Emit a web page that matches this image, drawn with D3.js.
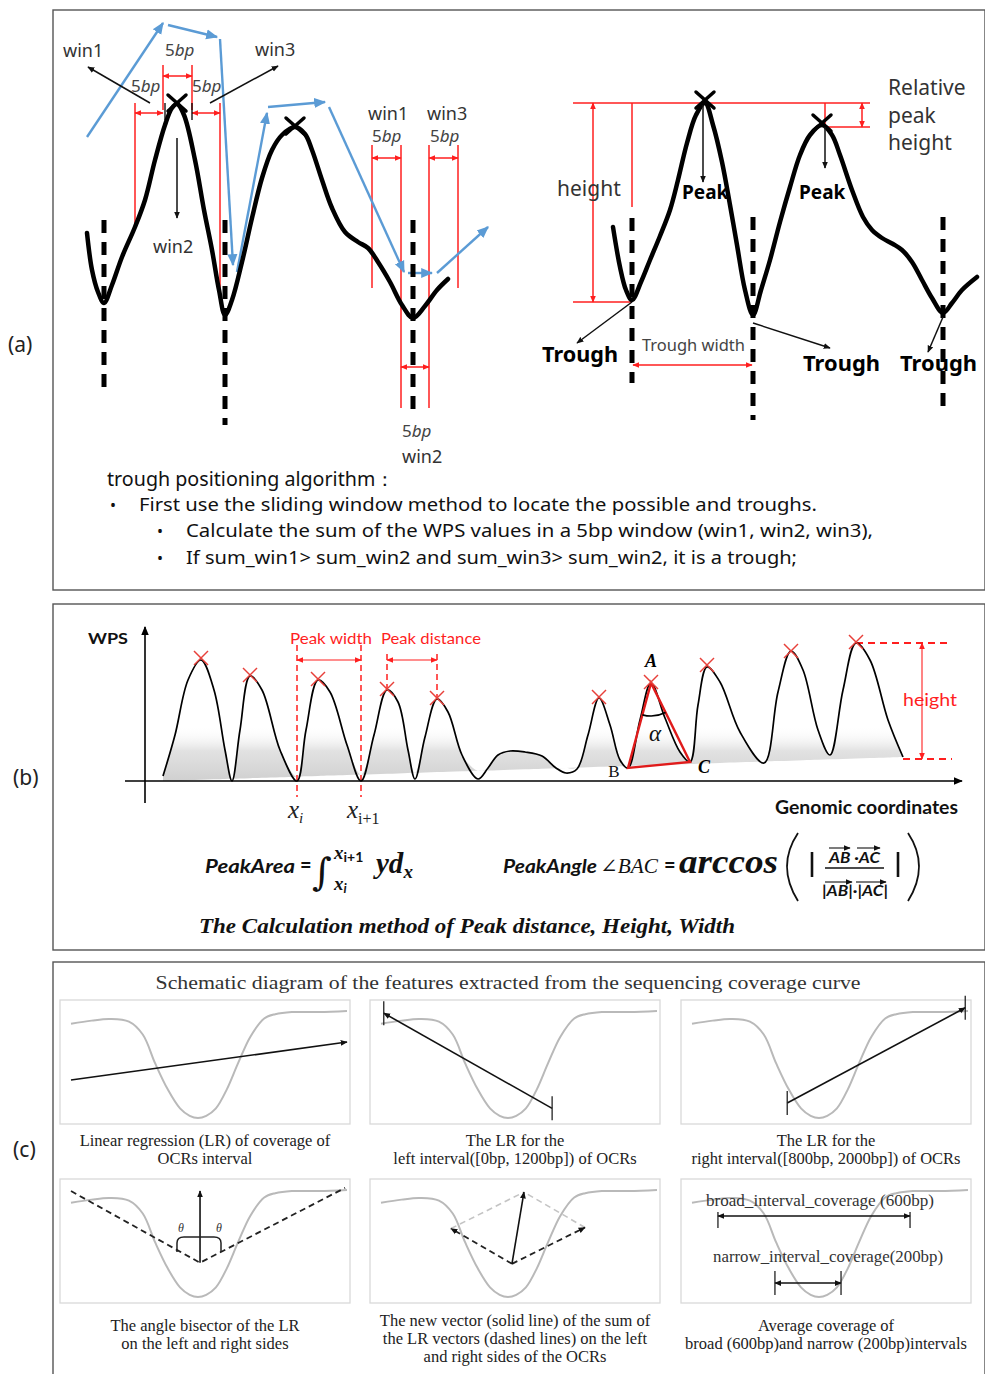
<!DOCTYPE html>
<html>
<head>
<meta charset="utf-8">
<script src="https://cdn.jsdelivr.net/npm/d3@7"></script>
<style>
  body { margin: 0; background: #fff; }
  svg { display: block; }
</style>
</head>
<body>
<svg id="fig"></svg>
<script>
// ---------- (a) sliding window trough search : WPS curves ----------
const aLeftPos  = [0,5,11,17,25,35,48,58,68,78,85,90,97,108,117,125,132,138,145,155,165,175,185,195,208,218,225,235,245,258,271,281,291,303,315,326,338,350,361];
const aLeftWps  = [87,50,28,17,35,63,93,120,160,195,212,216,205,160,110,70,30,5,20,58,102,142,170,185,193,186,170,140,112,88,78,72,58,38,15,2,14,30,41];
const aRightPos = [36,43,49,55,64,73,83,93,101,110,119,128,136,145,153,160,168,176,184,193,203,213,223,233,245,255,263,275,286,295,305,316,325,335,345,355,366,375,385,400];
const aRightWps = [93,53,30,20,38,60,84,110,140,177,205,217,195,158,115,75,30,5,30,60,98,133,165,185,195,185,165,130,103,90,82,76,70,58,40,22,7,17,30,43];
const aLeftPeaks  = [[90, 217], [208, 194]];
const aRightPeaks = [[128, 220], [245, 197]];
// trough position, dash top, dash bottom
const aLeftTroughs  = [[17, 100, -67], [138, 100, -105], [326, 100, -92]];
const aRightTroughs = [[55, 102, -63], [176, 103, -100], [366, 103, -92]];
// blue sliding steps x0,y0,x1,y1
const aSlide = [[0,183,76,297],[81,295,130,283],[133,281,146,55],[150,48,180,207],[181,213,238,218],[242,213,317,48],[321,47,345,47],[350,47,401,93]];
// window borders (x, y0, y1) and window spans (x0, x1, arrow y)
const aWinLeftLines  = [[48,93,217],[76,210,255],[105,210,255],[133,32,217]];
const aWinLeftSpans  = [[48,76,207],[76,105,244],[105,133,207]];
const aWinTicks      = [[78,200,217],[105,200,217]];
const aWinRightLines = [[285,32,175],[314,-88,175],[342,-88,175],[371,32,175]];
const aWinRightSpans = [[285,314,162],[314,342,-47],[342,371,162]];
const aLeftPointers  = [[63,217,1,253],[123,217,191,254],[90,182,90,102]];
const aRightPointers = [[126,215,126,138],[248,193,248,152],[55,18,0,-23],[176,-3,253,-28],[366,3,351,-32]];
const aHeightLines   = [[-4,217,293,217],[-4,18,55,18],[55,217,55,113],[248,193,293,193],[248,217,248,193]];
const aHeightArrows  = [[16,18,16,217],[285,193,285,217],[56,-45,175,-45]];
const aAlgorithm = [
  "trough positioning algorithm\uff1a",
  "First use the sliding window method to locate the possible and troughs.",
  "Calculate the sum of the WPS values in a 5bp window (win1, win2, win3),",
  "If sum_win1> sum_win2 and sum_win3> sum_win2, it is a trough;"
];

// ---------- (b) peak features ----------
const bPos = [18,30,43,56,69,80,87,95,105,117,135,152,161,173,185,202,216,229,242,253,263,270,280,292,303,317,333,343,353,365,380,397,411,421,432,443,454,465,475,483,495,506,520,535,545,553,562,575,595,619,633,646,658,673,685,698,711,725,743,758];
const bWps = [5,46,101,121,91,31,0,51,105,91,31,0,51,101,89,36,0,46,91,79,31,2,44,82,69,26,2,13,26,30,29,25,13,8,12,46,83,56,21,13,61,98,63,29,19,76,114,99,49,18,89,130,111,51,26,91,138,121,61,24];
const bPeaks = [[56,123],[105,106],[173,102],[242,92],[292,83],[454,84],[506,99],[562,116],[646,130],[711,139]];
const bBaseline = [[18, 0], [758, 24]];
const bTriangle = { A: [506, 98], B: [483, 13], C: [545, 19] };
const bPeakWidth = [152, 216];
const bPeakDistance = [242, 292];
const bHeight = { top: 138, bottom: 22, x: 777, right: 807, topFrom: 711, bottomFrom: 758 };

// ---------- (c) coverage curve features ----------
const covBp  = [0,150,280,420,520,610,700,790,860,920,980,1050,1130,1210,1300,1400,1480,1600,1800,2000];
const covVal = [0.88,0.91,0.925,0.90,0.78,0.51,0.27,0.09,0.02,0,0.02,0.09,0.27,0.51,0.76,0.93,0.97,0.99,0.99,1.0];
const lrAll   = [[0, 0.355], [2000, 0.71]];
const lrLeft  = [[1240, 0.09], [20, 0.98]];
const lrRight = [[690, 0.14], [1980, 1.03]];
const bisector = { start: [0, 0.99], vertex: [935, 0.32], end: [1986, 1.02], top: 0.99 };
const thetaBracket = { x0: 768, x1: 1087, top: 0.56, bottom: 0.42 };
const vecSum = { vertex: [949, 0.31], left: [507, 0.64], right: [1478, 0.65] };
const broadInterval  = [188, 1580, 0.757];
const narrowInterval = [601, 1080, 0.13];
const cTitle = "Schematic diagram of the features extracted from the sequencing coverage curve";
const cCaptions = [
  ["Linear regression (LR) of coverage of", "OCRs interval"],
  ["The LR for the", "left interval([0bp, 1200bp]) of OCRs"],
  ["The LR for the", "right interval([800bp, 2000bp]) of OCRs"],
  ["The angle bisector of the LR", "on the left and right sides"],
  ["The new vector (solid line) of the sum of", "the LR vectors (dashed lines) on the left", "and right sides of the OCRs"],
  ["Average coverage of", "broad (600bp)and narrow (200bp)intervals"]
];

const fA = "'Noto Sans', 'Open Sans', sans-serif";
const fB = "Lato, 'Open Sans', sans-serif";
const fS = "'Liberation Serif', 'DejaVu Serif', serif";
const RED = "#ff1f1f", BLUE = "#5b9bd5";

const svg = d3.select("#fig").attr("width", 985).attr("height", 1374);
const defs = svg.append("defs");

function marker(id, color, size) {
  defs.append("marker").attr("id", id)
    .attr("viewBox", "0 0 10 10").attr("refX", 9).attr("refY", 5)
    .attr("markerWidth", size).attr("markerHeight", size)
    .attr("markerUnits", "userSpaceOnUse").attr("orient", "auto-start-reverse")
    .append("path").attr("d", "M0,0.8L10,5L0,9.2z").attr("fill", color);
}
marker("arrK", "#000", 9);
marker("arrKs", "#111", 7);
marker("arrR", RED, 7);
marker("arrB", BLUE, 12);

function seg(g, sx, sy, d, stroke, width) {
  return g.append("line")
    .attr("x1", sx(d[0])).attr("y1", sy(d[1]))
    .attr("x2", sx(d[2])).attr("y2", sy(d[3]))
    .attr("stroke", stroke).attr("stroke-width", width);
}

function txt(g, x, y, s, o = {}) {
  const t = g.append("text").attr("x", x).attr("y", y)
    .attr("font-family", o.family || fA).attr("font-size", o.size || 16)
    .attr("fill", o.fill || "#222");
  if (o.weight) t.attr("font-weight", o.weight);
  if (o.style) t.attr("font-style", o.style);
  if (o.anchor) t.attr("text-anchor", o.anchor);
  if (o.len) t.attr("textLength", o.len).attr("lengthAdjust", "spacingAndGlyphs");
  t.text(s);
  return t;
}

// panel frames
[[53, 10, 932, 580], [53, 604, 932, 346], [53, 962, 932, 430]].forEach(f => {
  svg.append("rect").attr("x", f[0]).attr("y", f[1]).attr("width", f[2]).attr("height", f[3])
    .attr("fill", "none").attr("stroke", "#555").attr("stroke-width", 1.4);
});
txt(svg, 8, 352, "(a)", { size: 21 });
txt(svg, 13, 785, "(b)", { size: 21 });
txt(svg, 13, 1157, "(c)", { size: 21 });

// =============== panel (a) ===============
const gA = svg.append("g");
const ya = d3.scaleLinear().domain([0, 220]).range([320, 100]);
const xaL = d3.scaleLinear().domain([0, 400]).range([87, 487]);
const xaR = d3.scaleLinear().domain([0, 400]).range([577, 977]);

// red windows (left)
aWinLeftLines.forEach(d => seg(gA, xaL, ya, [d[0], d[1], d[0], d[2]], RED, 1.5));
aWinLeftSpans.forEach(d => seg(gA, xaL, ya, [d[0], d[2], d[1], d[2]], RED, 1.5)
  .attr("marker-start", "url(#arrR)").attr("marker-end", "url(#arrR)"));
aWinTicks.forEach(d => seg(gA, xaL, ya, [d[0], d[1], d[0], d[2]], "#000", 1.3));
aWinRightLines.forEach(d => seg(gA, xaL, ya, [d[0], d[1], d[0], d[2]], RED, 1.5));
aWinRightSpans.forEach(d => seg(gA, xaL, ya, [d[0], d[2], d[1], d[2]], RED, 1.5)
  .attr("marker-start", "url(#arrR)").attr("marker-end", "url(#arrR)"));

// red height measures (right)
aHeightLines.forEach(d => seg(gA, xaR, ya, d, RED, 1.5));
aHeightArrows.forEach(d => seg(gA, xaR, ya, d, RED, 1.5)
  .attr("marker-start", "url(#arrR)").attr("marker-end", "url(#arrR)"));

// blue sliding arrows
aSlide.forEach(d => seg(gA, xaL, ya, d, BLUE, 2.4).attr("marker-end", "url(#arrB)"));

// curves
const lineA = sx => d3.line().x(d => sx(d[0])).y(d => ya(d[1])).curve(d3.curveCatmullRom.alpha(0.5));
gA.append("path").attr("d", lineA(xaL)(aLeftPos.map((p, i) => [p, aLeftWps[i]])))
  .attr("fill", "none").attr("stroke", "#000").attr("stroke-width", 4.5)
  .attr("stroke-linejoin", "round").attr("stroke-linecap", "round");
gA.append("path").attr("d", lineA(xaR)(aRightPos.map((p, i) => [p, aRightWps[i]])))
  .attr("fill", "none").attr("stroke", "#000").attr("stroke-width", 4.5)
  .attr("stroke-linejoin", "round").attr("stroke-linecap", "round");

// trough dashed lines
[[aLeftTroughs, xaL], [aRightTroughs, xaR]].forEach(([arr, sx]) => {
  arr.forEach(d => seg(gA, sx, ya, [d[0], d[1], d[0], d[2]], "#000", 5).attr("stroke-dasharray", "13,9"));
});

// peak crosses
[[aLeftPeaks, xaL], [aRightPeaks, xaR]].forEach(([arr, sx]) => {
  arr.forEach(p => {
    const cx = sx(p[0]), cy = ya(p[1]);
    [[-9, -8, 9, 8], [-9, 8, 9, -8]].forEach(o => {
      gA.append("line").attr("x1", cx + o[0]).attr("y1", cy + o[1]).attr("x2", cx + o[2]).attr("y2", cy + o[3])
        .attr("stroke", "#000").attr("stroke-width", 3.5).attr("stroke-linecap", "round");
    });
  });
});

// black pointers
aLeftPointers.forEach(d => seg(gA, xaL, ya, d, "#111", 1.5).attr("marker-end", "url(#arrKs)"));
aRightPointers.forEach(d => seg(gA, xaR, ya, d, "#111", 1.5).attr("marker-end", "url(#arrKs)"));

// labels (a)
function bp(g, x, y) {
  const t = txt(g, x, y, "5", { size: 17, fill: "#444" });
  t.append("tspan").attr("font-style", "italic").text("bp");
}
const wl = { size: 18, fill: "#333" };
txt(gA, 63, 57, "win1", wl);
bp(gA, 165, 56);
txt(gA, 255, 56, "win3", wl);
bp(gA, 131, 92);
bp(gA, 192, 92);
txt(gA, 153, 253, "win2", wl);
txt(gA, 368, 120, "win1", wl);
bp(gA, 372, 142);
txt(gA, 427, 120, "win3", wl);
bp(gA, 430, 142);
bp(gA, 402, 437);
txt(gA, 402, 463, "win2", wl);

txt(gA, 888, 95, "Relative", { size: 21, fill: "#333" });
txt(gA, 888, 123, "peak", { size: 21, fill: "#333" });
txt(gA, 888, 150, "height", { size: 21, fill: "#333" });
txt(gA, 557, 196, "height", { size: 21, fill: "#333" });
txt(gA, 682, 199, "Peak", { size: 19, weight: "bold", fill: "#000" });
txt(gA, 799, 199, "Peak", { size: 19, weight: "bold", fill: "#000" });
txt(gA, 542, 362, "Trough", { size: 21, weight: "bold", fill: "#000", len: 76 });
txt(gA, 642, 351, "Trough width", { size: 16, fill: "#444", len: 103 });
txt(gA, 803, 371, "Trough", { size: 21, weight: "bold", fill: "#000", len: 77 });
txt(gA, 900, 371, "Trough", { size: 21, weight: "bold", fill: "#000", len: 77 });

txt(gA, 107, 486, aAlgorithm[0], { size: 19, fill: "#111", len: 288 });
txt(gA, 110, 511, "\u2022", { size: 16, fill: "#111" });
txt(gA, 139, 511, aAlgorithm[1], { size: 18, fill: "#111", len: 678 });
txt(gA, 157, 537, "\u2022", { size: 16, fill: "#111" });
txt(gA, 186, 537, aAlgorithm[2], { size: 18, fill: "#111", len: 687 });
txt(gA, 157, 564, "\u2022", { size: 16, fill: "#111" });
txt(gA, 186, 564, aAlgorithm[3], { size: 18, fill: "#111", len: 611 });

// =============== panel (b) ===============
const gB = svg.append("g");
const xb = d3.scaleLinear().domain([0, 817]).range([145, 962]);
const yb = d3.scaleLinear().domain([0, 155]).range([781, 626]);
const baseAt = x => bBaseline[0][1] + (x - bBaseline[0][0]) * (bBaseline[1][1] - bBaseline[0][1]) / (bBaseline[1][0] - bBaseline[0][0]);
const bData = bPos.map((p, i) => [p, bWps[i]]);

const grad = defs.append("linearGradient").attr("id", "shade").attr("gradientUnits", "userSpaceOnUse")
  .attr("x1", 0).attr("x2", 0).attr("y1", yb(55)).attr("y2", yb(0));
grad.append("stop").attr("offset", 0).attr("stop-color", "#fff").attr("stop-opacity", 0);
grad.append("stop").attr("offset", 0.45).attr("stop-color", "#e2e2e2");
grad.append("stop").attr("offset", 1).attr("stop-color", "#d0d0d0");

gB.append("path")
  .attr("d", d3.area().x(d => xb(d[0])).y0(d => yb(baseAt(d[0])))
    .y1(d => yb(Math.max(d[1], baseAt(d[0])))).curve(d3.curveCatmullRom.alpha(0.5))(bData))
  .attr("fill", "url(#shade)");

// axes
gB.append("line").attr("x1", xb(0)).attr("x2", xb(0)).attr("y1", yb(-22)).attr("y2", yb(154))
  .attr("stroke", "#000").attr("stroke-width", 1.6).attr("marker-end", "url(#arrK)");
gB.append("line").attr("x1", xb(-20)).attr("x2", xb(817)).attr("y1", yb(0)).attr("y2", yb(0))
  .attr("stroke", "#000").attr("stroke-width", 1.6).attr("marker-end", "url(#arrK)");

// peak width / distance guides
bPeakWidth.forEach(x => seg(gB, xb, yb, [x, 136, x, -16], RED, 1.5).attr("stroke-dasharray", "6,4"));
seg(gB, xb, yb, [bPeakWidth[0], 121, bPeakWidth[1], 121], RED, 1.2)
  .attr("marker-start", "url(#arrR)").attr("marker-end", "url(#arrR)");
bPeakDistance.forEach(x => {
  const pk = bPeaks.find(p => p[0] === x);
  seg(gB, xb, yb, [x, 127, x, pk[1] - 2], RED, 1.5).attr("stroke-dasharray", "6,4");
});
seg(gB, xb, yb, [bPeakDistance[0], 121, bPeakDistance[1], 121], RED, 1.2)
  .attr("marker-start", "url(#arrR)").attr("marker-end", "url(#arrR)");

// height guides
seg(gB, xb, yb, [bHeight.topFrom, bHeight.top, bHeight.right, bHeight.top], RED, 1.8).attr("stroke-dasharray", "7,5");
seg(gB, xb, yb, [bHeight.bottomFrom, bHeight.bottom, bHeight.right, bHeight.bottom], RED, 1.8).attr("stroke-dasharray", "7,5");
seg(gB, xb, yb, [bHeight.x, bHeight.bottom, bHeight.x, bHeight.top], RED, 1.1)
  .attr("marker-start", "url(#arrR)").attr("marker-end", "url(#arrR)");

// curve
gB.append("path").attr("d", d3.line().x(d => xb(d[0])).y(d => yb(d[1])).curve(d3.curveCatmullRom.alpha(0.5))(bData))
  .attr("fill", "none").attr("stroke", "#000").attr("stroke-width", 1.7);

// triangle ABC and angle arc
const tri = [bTriangle.A, bTriangle.B, bTriangle.C];
gB.append("path").attr("d", d3.line().x(d => xb(d[0])).y(d => yb(d[1])).curve(d3.curveLinearClosed)(tri))
  .attr("fill", "none").attr("stroke", "#e01b1b").attr("stroke-width", 2.4).attr("stroke-linejoin", "miter");
{
  const ax = xb(bTriangle.A[0]), ay = yb(bTriangle.A[1]);
  const ang = p => Math.atan2(yb(p[1]) - ay, xb(p[0]) - ax);
  const a1 = ang(bTriangle.B), a2 = ang(bTriangle.C), r = 33;
  gB.append("path")
    .attr("d", `M${ax + r * Math.cos(a1)},${ay + r * Math.sin(a1)} A${r},${r} 0 0 0 ${ax + r * Math.cos(a2)},${ay + r * Math.sin(a2)}`)
    .attr("fill", "none").attr("stroke", "#000").attr("stroke-width", 1.6);
}

// peak crosses
bPeaks.forEach(p => {
  const cx = xb(p[0]), cy = yb(p[1]);
  [[-7, -7, 7, 7], [-7, 7, 7, -7]].forEach(o => {
    gB.append("line").attr("x1", cx + o[0]).attr("y1", cy + o[1]).attr("x2", cx + o[2]).attr("y2", cy + o[3])
      .attr("stroke", "#e8403a").attr("stroke-width", 1.5);
  });
});

// labels (b)
txt(gB, 88, 644, "WPS", { family: fB, size: 16, weight: "bold", fill: "#111", len: 40 });
txt(gB, 775, 814, "Genomic coordinates", { family: fB, size: 18, weight: "bold", fill: "#111", len: 183 });
txt(gB, 290, 644, "Peak width", { family: fB, size: 16, fill: RED, len: 82 });
txt(gB, 381, 644, "Peak distance", { family: fB, size: 16, fill: RED, len: 100 });
txt(gB, 903, 706, "height", { family: fB, size: 18, fill: RED, len: 54 });
txt(gB, xb(bTriangle.A[0]), 667, "A", { family: fS, size: 18, weight: "bold", style: "italic", fill: "#000", anchor: "middle" });
txt(gB, 655, 741, "\u03b1", { family: fS, size: 23, style: "italic", fill: "#111", anchor: "middle" });
txt(gB, 614, 777, "B", { family: fS, size: 17, fill: "#111", anchor: "middle" });
txt(gB, 704, 773, "C", { family: fS, size: 18, weight: "bold", style: "italic", fill: "#000", anchor: "middle" });
{
  const t1 = txt(gB, xb(bPeakWidth[0]) - 9, 818, "x", { family: fS, size: 25, style: "italic", fill: "#222" });
  t1.append("tspan").attr("font-size", 15).attr("dy", 5).text("i");
  const t2 = txt(gB, xb(bPeakWidth[1]) - 14, 818, "x", { family: fS, size: 25, style: "italic", fill: "#222" });
  t2.append("tspan").attr("font-size", 16).attr("dy", 6).attr("font-style", "normal").text("i+1");
}

// formulas
txt(gB, 205, 873, "PeakArea", { family: fB, size: 18, weight: "bold", style: "italic", fill: "#111", len: 90 });
txt(gB, 300, 872, "=", { family: fB, size: 20, weight: "bold", fill: "#111" });
txt(gB, 312, 885, "\u222b", { family: "'DejaVu Serif', serif", size: 38, fill: "#111" });
{
  const up = txt(gB, 334, 859, "x", { family: fS, size: 19, weight: "bold", style: "italic", fill: "#111" });
  up.append("tspan").attr("font-family", fB).attr("font-style", "normal").attr("font-size", 14).attr("dy", 3).text("i+1");
  const lo = txt(gB, 334, 890, "x", { family: fS, size: 19, weight: "bold", style: "italic", fill: "#111" });
  lo.append("tspan").attr("font-family", fB).attr("font-size", 13).attr("dy", 3).text("i");
  const yd = txt(gB, 376, 873, "yd", { family: fS, size: 29, weight: "bold", style: "italic", fill: "#111" });
  yd.append("tspan").attr("font-size", 19).attr("dy", 5).text("x");
}
txt(gB, 503, 873, "PeakAngle", { family: fB, size: 18, weight: "bold", style: "italic", fill: "#111", len: 94 });
txt(gB, 600, 873, "\u2220BAC", { family: fS, size: 20, style: "italic", fill: "#111", len: 58 });
txt(gB, 664, 872, "=", { family: fB, size: 20, weight: "bold", fill: "#111" });
txt(gB, 679, 873, "arccos", { family: fS, size: 33, weight: "bold", style: "italic", fill: "#111", len: 99 });
gB.append("path").attr("d", "M798,833 Q776,866 798,901").attr("fill", "none").attr("stroke", "#111").attr("stroke-width", 1.8);
gB.append("path").attr("d", "M908,833 Q930,866 908,901").attr("fill", "none").attr("stroke", "#111").attr("stroke-width", 1.8);
[812, 898].forEach(x => gB.append("line").attr("x1", x).attr("x2", x).attr("y1", 852).attr("y2", 877)
  .attr("stroke", "#111").attr("stroke-width", 2.6));
txt(gB, 829, 863, "AB \u00b7AC", { family: fB, size: 15, weight: "bold", style: "italic", fill: "#111", len: 51 });
gB.append("line").attr("x1", 825).attr("x2", 884).attr("y1", 868).attr("y2", 868).attr("stroke", "#111").attr("stroke-width", 1.3);
txt(gB, 822, 896, "|AB|\u00b7|AC|", { family: fB, size: 15, weight: "bold", style: "italic", fill: "#111", len: 66 });
[[829, 850, 848], [857, 880, 848], [825, 852, 882], [856, 886, 882]].forEach(d => {
  gB.append("line").attr("x1", d[0]).attr("x2", d[1]).attr("y1", d[2]).attr("y2", d[2])
    .attr("stroke", "#111").attr("stroke-width", 1.1).attr("marker-end", "url(#arrKs)");
});
txt(gB, 199, 933, "The Calculation method of Peak distance, Height, Width",
  { family: fS, size: 22, weight: "bold", style: "italic", fill: "#111", len: 536 });

// =============== panel (c) ===============
const gC = svg.append("g");
txt(gC, 508, 989, cTitle, { family: fS, size: 19, fill: "#333", anchor: "middle", len: 705 });
const cCols = [60, 370, 681], cRows = [1000, 1179], boxW = 290, boxH = 124;
const covData = covBp.map((b, i) => [b, covVal[i]]);

function box(col, row) {
  const bx = cCols[col], by = cRows[row];
  const g = gC.append("g");
  g.append("rect").attr("x", bx).attr("y", by).attr("width", boxW).attr("height", boxH)
    .attr("fill", "#fff").attr("stroke", "#d9d9d9").attr("stroke-width", 1.3);
  const sx = d3.scaleLinear().domain([0, 2000]).range([bx + 11, bx + 287]);
  const sy = d3.scaleLinear().domain([0, 1]).range([by + 118, by + 11]);
  g.append("path").attr("d", d3.line().x(d => sx(d[0])).y(d => sy(d[1])).curve(d3.curveCatmullRom.alpha(0.5))(covData))
    .attr("fill", "none").attr("stroke", "#b9b9b9").attr("stroke-width", 2);
  const caps = cCaptions[row * 3 + col];
  const y0 = row === 0 ? 1146 : (caps.length === 3 ? 1326 : 1331);
  caps.forEach((c, i) => txt(g, bx + boxW / 2, y0 + i * 18, c, { family: fS, size: 16.5, fill: "#222", anchor: "middle" }));
  return { g, sx, sy };
}
function tick(g, x, y, up, down) {
  g.append("line").attr("x1", x).attr("x2", x).attr("y1", y - up).attr("y2", y + down)
    .attr("stroke", "#222").attr("stroke-width", 1.3);
}

{ // LR of whole interval
  const { g, sx, sy } = box(0, 0);
  seg(g, sx, sy, [lrAll[0][0], lrAll[0][1], lrAll[1][0], lrAll[1][1]], "#111", 1.6).attr("marker-end", "url(#arrKs)");
}
[[1, lrLeft], [2, lrRight]].forEach(([col, lr]) => {
  const { g, sx, sy } = box(col, 0);
  seg(g, sx, sy, [lr[0][0], lr[0][1], lr[1][0], lr[1][1]], "#111", 1.6).attr("marker-end", "url(#arrKs)");
  lr.forEach(p => tick(g, sx(p[0]), sy(p[1]), 12, 12));
});
{ // angle bisector
  const { g, sx, sy } = box(0, 1);
  const pts = [bisector.start, bisector.vertex, bisector.end];
  g.append("path").attr("d", d3.line().x(d => sx(d[0])).y(d => sy(d[1]))(pts))
    .attr("fill", "none").attr("stroke", "#222").attr("stroke-width", 1.8).attr("stroke-dasharray", "6,4");
  seg(g, sx, sy, [bisector.vertex[0], bisector.vertex[1], bisector.vertex[0], bisector.top], "#111", 1.6)
    .attr("marker-end", "url(#arrKs)");
  const x0 = sx(thetaBracket.x0), x1 = sx(thetaBracket.x1), yt = sy(thetaBracket.top), ybm = sy(thetaBracket.bottom);
  g.append("path").attr("d", `M${x0},${ybm} L${x0},${yt + 6} Q${x0},${yt} ${x0 + 7},${yt} L${x1 - 7},${yt} Q${x1},${yt} ${x1},${yt + 6} L${x1},${ybm}`)
    .attr("fill", "none").attr("stroke", "#222").attr("stroke-width", 1.5);
  txt(g, x0 + 4, yt - 5, "\u03b8", { family: fS, size: 12, style: "italic", fill: "#333", anchor: "middle" });
  txt(g, x1 - 2, yt - 5, "\u03b8", { family: fS, size: 12, style: "italic", fill: "#333", anchor: "middle" });
}
{ // vector sum
  const { g, sx, sy } = box(1, 1);
  const V = [sx(vecSum.vertex[0]), sy(vecSum.vertex[1])];
  const L = [sx(vecSum.left[0]), sy(vecSum.left[1])];
  const R = [sx(vecSum.right[0]), sy(vecSum.right[1])];
  const S = [L[0] + R[0] - V[0], L[1] + R[1] - V[1]];
  const id = d3.scaleIdentity();
  seg(g, id, id, [L[0], L[1], S[0], S[1]], "#c4c4c4", 1.6).attr("stroke-dasharray", "6,4");
  seg(g, id, id, [R[0], R[1], S[0], S[1]], "#c4c4c4", 1.6).attr("stroke-dasharray", "6,4");
  seg(g, id, id, [V[0], V[1], L[0], L[1]], "#222", 1.8).attr("stroke-dasharray", "6,4").attr("marker-end", "url(#arrKs)");
  seg(g, id, id, [V[0], V[1], R[0], R[1]], "#222", 1.8).attr("stroke-dasharray", "6,4").attr("marker-end", "url(#arrKs)");
  seg(g, id, id, [V[0], V[1], S[0], S[1]], "#111", 1.6).attr("marker-end", "url(#arrKs)");
}
{ // broad / narrow intervals
  const { g, sx, sy } = box(2, 1);
  txt(g, 706, 1206, "broad_interval_coverage  (600bp)", { family: fS, size: 16, fill: "#333", len: 228 });
  txt(g, 713, 1262, "narrow_interval_coverage(200bp)", { family: fS, size: 16, fill: "#333", len: 230 });
  [[broadInterval, 4, 12], [narrowInterval, 12, 12]].forEach(([iv, up, dn]) => {
    seg(g, sx, sy, [iv[0], iv[2], iv[1], iv[2]], "#111", 1.5)
      .attr("marker-start", "url(#arrKs)").attr("marker-end", "url(#arrKs)");
    tick(g, sx(iv[0]), sy(iv[2]), up, dn);
    tick(g, sx(iv[1]), sy(iv[2]), up, dn);
  });
}
</script>
</body>
</html>
